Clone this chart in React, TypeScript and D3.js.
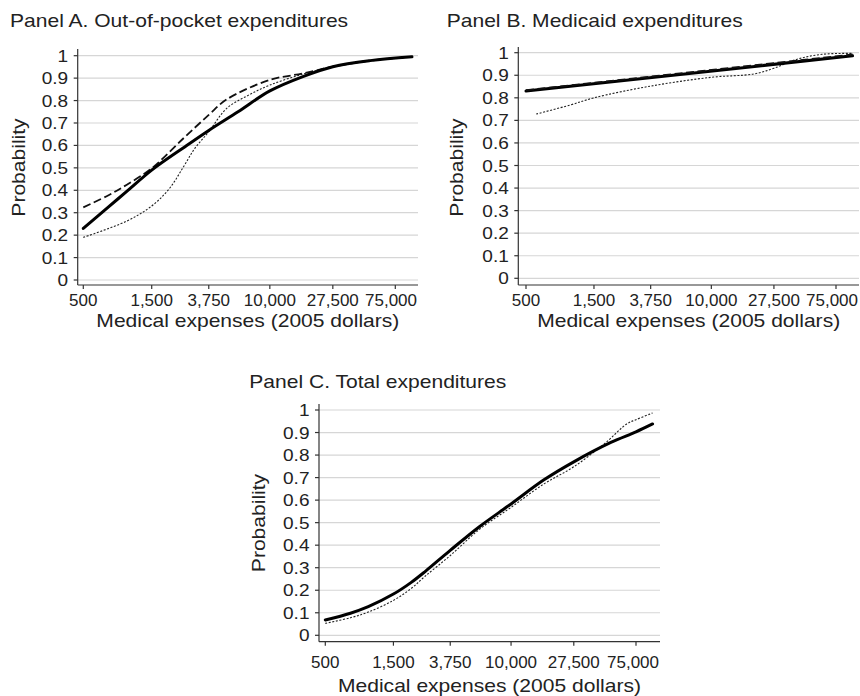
import React from "react";
import * as d3 from "d3";

// ---------- shared axis data ----------
const xTickValues = [500, 1500, 3750, 10000, 27500, 75000];
const xTickLabels = ["500", "1,500", "3,750", "10,000", "27,500", "75,000"];
const yTickValues = [0, 0.1, 0.2, 0.3, 0.4, 0.5, 0.6, 0.7, 0.8, 0.9, 1];
const yTickLabels = ["0", "0.1", "0.2", "0.3", "0.4", "0.5", "0.6", "0.7", "0.8", "0.9", "1"];

const panelTitles = [
  "Panel A. Out-of-pocket expenditures",
  "Panel B. Medicaid expenditures",
  "Panel C. Total expenditures",
];
const xAxisTitle = "Medical expenses (2005 dollars)";
const yAxisTitle = "Probability";

// ---------- Panel A ----------
const aSolidX = [500, 750, 1000, 1500, 2500, 3750, 6000, 10000, 17000, 27500, 50000, 98000];
const aSolidY = [0.23, 0.326, 0.394, 0.49, 0.59, 0.667, 0.75, 0.843, 0.907, 0.951, 0.978, 0.995];
const aDashX = [500, 750, 1000, 1500, 2500, 3750, 5000, 10000, 17000, 27500, 50000, 98000];
const aDashY = [0.324, 0.378, 0.424, 0.498, 0.632, 0.736, 0.805, 0.892, 0.921, 0.951, 0.978, 0.995];
const aDotX = [500, 1000, 1500, 2000, 2500, 3000, 3750, 5000, 7000, 10000, 17000, 27500, 50000, 98000];
const aDotY = [0.19, 0.262, 0.33, 0.409, 0.505, 0.587, 0.661, 0.765, 0.822, 0.869, 0.918, 0.951, 0.978, 0.995];

// ---------- Panel B ----------
const bSolidX = [500, 98000];
const bSolidY = [0.83, 0.986];
const bDashX = [500, 98000];
const bDashY = [0.834, 0.992];
const bDotX = [590, 1020, 1500, 3750, 10000, 20000, 27500, 40000, 60000, 98000];
const bDotY = [0.728, 0.768, 0.8, 0.852, 0.891, 0.906, 0.931, 0.971, 0.993, 0.997];

// ---------- Panel C ----------
const cSolidX = [500, 750, 1000, 1500, 2000, 2500, 3750, 6000, 10000, 17000, 27500, 50000, 75000, 98000];
const cSolidY = [0.068, 0.098, 0.127, 0.183, 0.235, 0.283, 0.377, 0.482, 0.583, 0.69, 0.77, 0.856, 0.903, 0.938];
const cDotX = [500, 750, 1000, 1500, 2000, 2500, 3750, 6000, 10000, 17000, 27500, 46000, 64500, 75000, 98000];
const cDotY = [0.053, 0.078, 0.103, 0.155, 0.208, 0.262, 0.354, 0.47, 0.568, 0.672, 0.748, 0.855, 0.938, 0.957, 0.987];

type Style = "solid" | "dash" | "dot";
interface Series { xs: number[]; ys: number[]; style: Style }

const panelSeries: Series[][] = [
  [
    { xs: aDotX, ys: aDotY, style: "dot" },
    { xs: aDashX, ys: aDashY, style: "dash" },
    { xs: aSolidX, ys: aSolidY, style: "solid" },
  ],
  [
    { xs: bDotX, ys: bDotY, style: "dot" },
    { xs: bSolidX, ys: bSolidY, style: "solid" },
    { xs: bDashX, ys: bDashY, style: "dash" },
  ],
  [
    { xs: cDotX, ys: cDotY, style: "dot" },
    { xs: cSolidX, ys: cSolidY, style: "solid" },
  ],
];

const layouts = [
  { axisX: 77.7, y1: 55.7, y0: 280, xAxisY: 285, right: 418, r0: 83.3, r1: 395.3, yAxisTop: 49,
    titleX: 10, titleY: 26.7, tickBase: 306, xTitleY: 327, yTitleX: 25, yTitleY: 167.5 },
  { axisX: 518.3, y1: 52.7, y0: 278.3, xAxisY: 285, right: 859, r0: 526, r1: 836, yAxisTop: 47,
    titleX: 446.7, titleY: 26.7, tickBase: 306, xTitleY: 327, yTitleX: 463.3, yTitleY: 167.5 },
  { axisX: 319, y1: 410, y0: 635.3, xAxisY: 641.7, right: 660, r0: 325.3, r1: 636, yAxisTop: 404,
    titleX: 249.3, titleY: 388.3, tickBase: 668, xTitleY: 692, yTitleX: 265, yTitleY: 523 },
];

const FONT = "'Liberation Sans', Arial, Helvetica, sans-serif";
const TEXT = "#222";
const XTICK_SIZE = 17;

function T(props: { x: number; y: number; anchor?: string; size: number; sx: number; rot?: number; children: React.ReactNode }) {
  const { x, y, anchor = "start", size, sx, rot = 0, children } = props;
  return (
    <text
      transform={`translate(${x},${y}) rotate(${rot}) scale(${sx},1)`}
      textAnchor={anchor}
      fontFamily={FONT}
      fontSize={size}
      fill={TEXT}
    >
      {children}
    </text>
  );
}

// approximate Arial advance width for digits/comma labels
function labelWidth(s: string, size: number) {
  let w = 0;
  for (const ch of s) w += ch === "," || ch === "." ? 0.278 : 0.556;
  return w * size;
}

function Panel({ idx }: { idx: number }) {
  const L = layouts[idx];
  const x = d3.scaleLog().domain([500, 75000]).range([L.r0, L.r1]);
  const y = d3.scaleLinear().domain([0, 1]).range([L.y0, L.y1]);
  const line = d3
    .line<[number, number]>()
    .x((d) => x(d[0]))
    .y((d) => y(d[1]))
    .curve(d3.curveCatmullRom.alpha(0.5));

  return (
    <g>
      {/* gridlines */}
      {yTickValues.map((v) => (
        <line key={"g" + v} x1={L.axisX} x2={L.right} y1={y(v)} y2={y(v)} stroke="#d6d6d6" strokeWidth={1.2} />
      ))}
      {/* series */}
      {panelSeries[idx].map((s, i) => {
        const pts = s.xs.map((xv, j) => [xv, s.ys[j]] as [number, number]);
        const st =
          s.style === "solid"
            ? { stroke: "#000", strokeWidth: 3, dash: undefined }
            : s.style === "dash"
            ? { stroke: "#111", strokeWidth: 1.8, dash: "8,3.5" }
            : { stroke: "#222", strokeWidth: 1.1, dash: "2,1.6" };
        return (
          <path
            key={i}
            d={line(pts) || ""}
            fill="none"
            stroke={st.stroke}
            strokeWidth={st.strokeWidth}
            strokeDasharray={st.dash}
            strokeLinecap={s.style === "solid" ? "round" : "butt"}
          />
        );
      })}
      {/* y axis */}
      <line x1={L.axisX} x2={L.axisX} y1={L.yAxisTop} y2={L.xAxisY} stroke="#333" strokeWidth={1.2} />
      {yTickValues.map((v, i) => (
        <g key={"yt" + v}>
          <line x1={L.axisX - 4} x2={L.axisX} y1={y(v)} y2={y(v)} stroke="#333" strokeWidth={1.2} />
          <T x={L.axisX - 9.5} y={y(v) + 6} anchor="end" size={17} sx={1.12}>
            {yTickLabels[i]}
          </T>
        </g>
      ))}
      {/* x axis */}
      <line x1={L.axisX} x2={L.right} y1={L.xAxisY} y2={L.xAxisY} stroke="#333" strokeWidth={1.2} />
      {xTickValues.map((v, i) => {
        const half = labelWidth(xTickLabels[i], XTICK_SIZE) / 2;
        const cx = Math.min(x(v), L.right - 1 - half);
        return (
          <g key={"xt" + v}>
            <line x1={x(v)} x2={x(v)} y1={L.xAxisY} y2={L.xAxisY + 4} stroke="#333" strokeWidth={1.2} />
            <T x={cx} y={L.tickBase} anchor="middle" size={XTICK_SIZE} sx={1.0}>
              {xTickLabels[i]}
            </T>
          </g>
        );
      })}
      {/* titles */}
      <T x={L.titleX} y={L.titleY} size={18} sx={1.17}>
        {panelTitles[idx]}
      </T>
      <T x={(L.axisX + L.right) / 2} y={L.xTitleY} anchor="middle" size={18} sx={1.17}>
        {xAxisTitle}
      </T>
      <T x={L.yTitleX} y={L.yTitleY} anchor="middle" size={18} sx={1.17} rot={-90}>
        {yAxisTitle}
      </T>
    </g>
  );
}

export default function App() {
  return (
    <svg
      width={860}
      height={696}
      viewBox="0 0 860 696"
      style={{ position: "absolute", left: 0, top: 0, display: "block", background: "#fff" }}
    >
      <rect x={0} y={0} width={860} height={696} fill="#fff" />
      <Panel idx={0} />
      <Panel idx={1} />
      <Panel idx={2} />
    </svg>
  );
}
